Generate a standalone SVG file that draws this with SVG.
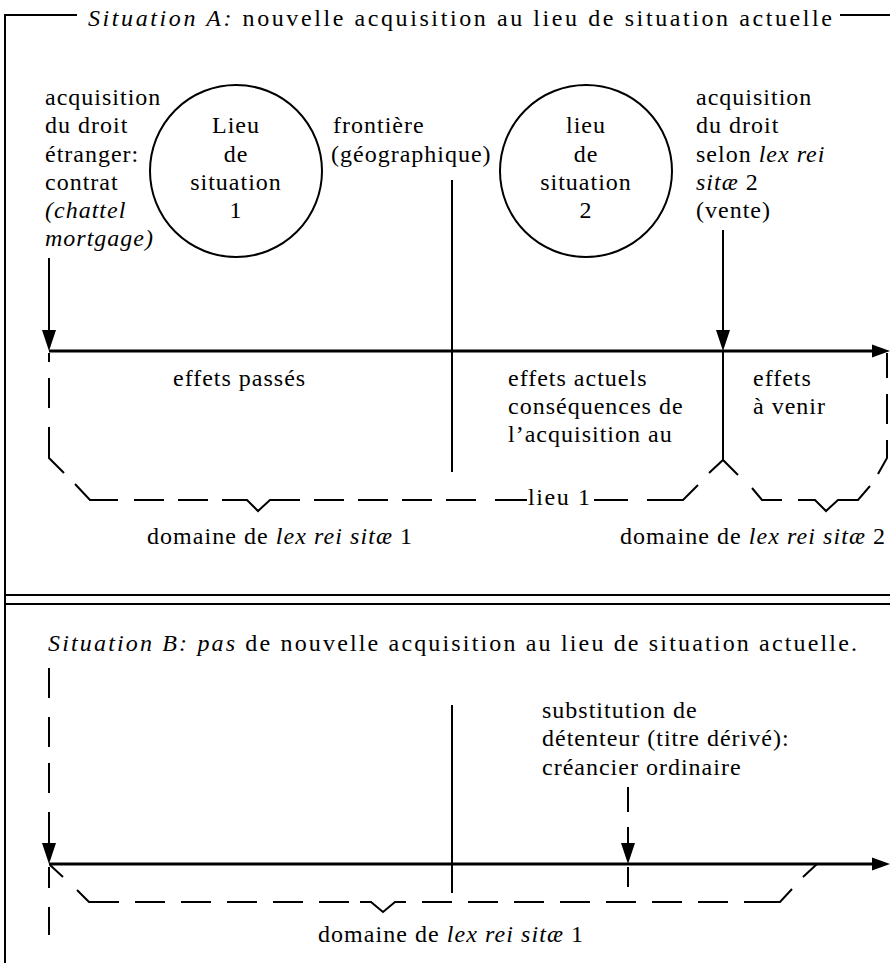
<svg xmlns="http://www.w3.org/2000/svg" xmlns:xlink="http://www.w3.org/1999/xlink" width="890" height="963" viewBox="0 0 890 963">
<style>
.t{font-family:"Liberation Serif","Times New Roman",serif;font-size:24px;fill:#000;letter-spacing:1px}
.i{font-style:italic}
.m{text-anchor:middle}
.ln{stroke:#000;stroke-width:2;fill:none}
.thick{stroke-width:3}
.ah{fill:#000;stroke:none}
</style>
<defs>
<path id="ahDown" d="M0,0 L-7,-21 L7,-21 Z"/>
<path id="ahRight" d="M0,0 L-18,-6.5 L-18,6.5 Z"/>
</defs>
<rect width="890" height="963" fill="#fff"/>

<g id="frame">
<path class="ln" d="M77,15 H5 V963 M840,15 H890"/>
<path class="ln" d="M5,595 H890 M5,604 H890"/>
</g>

<g id="title-A">
<text class="t" x="88" y="26" textLength="745" lengthAdjust="spacing"><tspan class="i">Situation A:</tspan> nouvelle acquisition au lieu de situation actuelle</text>
</g>

<g id="label-acq-foreign">
<text class="t" x="45" y="105">acquisition</text>
<text class="t" x="45" y="133">du droit</text>
<text class="t" x="45" y="162">étranger:</text>
<text class="t" x="45" y="190">contrat</text>
<text class="t i" x="45" y="218">(chattel</text>
<text class="t i" x="45" y="246">mortgage)</text>
</g>

<g id="circle1">
<circle class="ln" cx="236" cy="171" r="86"/>
<text class="t m" x="236" y="133">Lieu</text>
<text class="t m" x="236" y="162">de</text>
<text class="t m" x="236" y="190">situation</text>
<text class="t m" x="236" y="218">1</text>
</g>

<g id="label-frontier">
<text class="t" x="333" y="133">frontière</text>
<text class="t" x="331" y="162">(géographique)</text>
</g>

<g id="circle2">
<circle class="ln" cx="586" cy="171" r="86"/>
<text class="t m" x="586" y="133">lieu</text>
<text class="t m" x="586" y="162">de</text>
<text class="t m" x="586" y="190">situation</text>
<text class="t m" x="586" y="218">2</text>
</g>

<g id="label-acq-2">
<text class="t" x="696" y="105">acquisition</text>
<text class="t" x="696" y="133">du droit</text>
<text class="t" x="696" y="162">selon <tspan class="i">lex rei</tspan></text>
<text class="t" x="696" y="190"><tspan class="i">sitæ</tspan> 2</text>
<text class="t" x="696" y="218">(vente)</text>
</g>

<g id="label-effets">
<text class="t" x="173" y="386">effets passés</text>
<text class="t" x="508" y="386">effets actuels</text>
<text class="t" x="508" y="414">conséquences de</text>
<text class="t" x="508" y="442">l’acquisition au</text>
<text class="t" x="753" y="386">effets</text>
<text class="t" x="753" y="414">à venir</text>
</g>

<g id="label-domaines-A">
<text class="t" x="528" y="505" textLength="63" lengthAdjust="spacing">lieu 1</text>
<text class="t" x="147" y="544" textLength="266" lengthAdjust="spacing">domaine de <tspan class="i">lex rei sitæ</tspan> 1</text>
<text class="t" x="620" y="544" textLength="266" lengthAdjust="spacing">domaine de <tspan class="i">lex rei sitæ</tspan> 2</text>
</g>

<g id="title-B">
<text class="t" x="48" y="651" textLength="810" lengthAdjust="spacing"><tspan class="i">Situation B: pas</tspan> de nouvelle acquisition au lieu de situation actuelle.</text>
</g>

<g id="label-substitution">
<text class="t" x="542" y="718">substitution de</text>
<text class="t" x="542" y="746">détenteur (titre dérivé):</text>
<text class="t" x="542" y="775">créancier ordinaire</text>
</g>

<g id="label-domaine-B">
<text class="t" x="318" y="942" textLength="266" lengthAdjust="spacing">domaine de <tspan class="i">lex rei sitæ</tspan> 1</text>
</g>

<g id="connectors">
<!-- Situation A -->
<path class="ln thick" d="M49,351 H874"/>
<use xlink:href="#ahRight" class="ah" x="890" y="351"/>
<path class="ln" d="M49,258 V332"/>
<use xlink:href="#ahDown" class="ah" x="49" y="351"/>
<path class="ln" d="M723,230 V332 M723,351 V460"/>
<use xlink:href="#ahDown" class="ah" x="723" y="351"/>
<path class="ln" d="M452,180 V472"/>
<!-- bracket lex rei sitae 1 -->
<path class="ln" d="M49,353 V362 M49,378 V408 M49,427 V458 L64,473 M75,484 L90,500 H118 M134,500 H164 M178,500 H208 M222,500 H247 L258,511 L270,500 H300 M314,500 H344 M358,500 H388 M402,500 H432 M446,500 H476 M495,500 H527 M594,500 H628 M647,500 H683 L698,485"/>
<path class="ln" d="M709,473 L723,460 L738,475"/>
<!-- bracket lex rei sitae 2 -->
<path class="ln" d="M752,488 L762,500 H782 M798,500 H815 L826,511 L838,500 H858 L870,486 M878,474 L887,458 V440 M887,424 V394 M887,378 V353"/>
<!-- Situation B -->
<path class="ln thick" d="M49,864 H874"/>
<use xlink:href="#ahRight" class="ah" x="890" y="864"/>
<path class="ln" d="M49,668 V698 M49,717 V747 M49,763 V793 M49,812 V843 M49,867 V888 M49,907 V935"/>
<use xlink:href="#ahDown" class="ah" x="49" y="864"/>
<path class="ln" d="M452,705 V893"/>
<path class="ln" d="M628,787 V812 M628,827 V843 M628,867 V887"/>
<use xlink:href="#ahDown" class="ah" x="628" y="864"/>
<path class="ln" d="M50,865 L63,877 M77,890 L89,902 H119 M135,902 H165 M181,902 H211 M227,902 H257 M273,902 H303 M319,902 H349 M360,902 H371 L383,912 L395,902 H406 M422,902 H452 M468,902 H498 M514,902 H544 M560,902 H590 M606,902 H636 M652,902 H682 M698,902 H728 M744,902 H780 L792,889 M803,877 L817,864"/>
</g>
</svg>
